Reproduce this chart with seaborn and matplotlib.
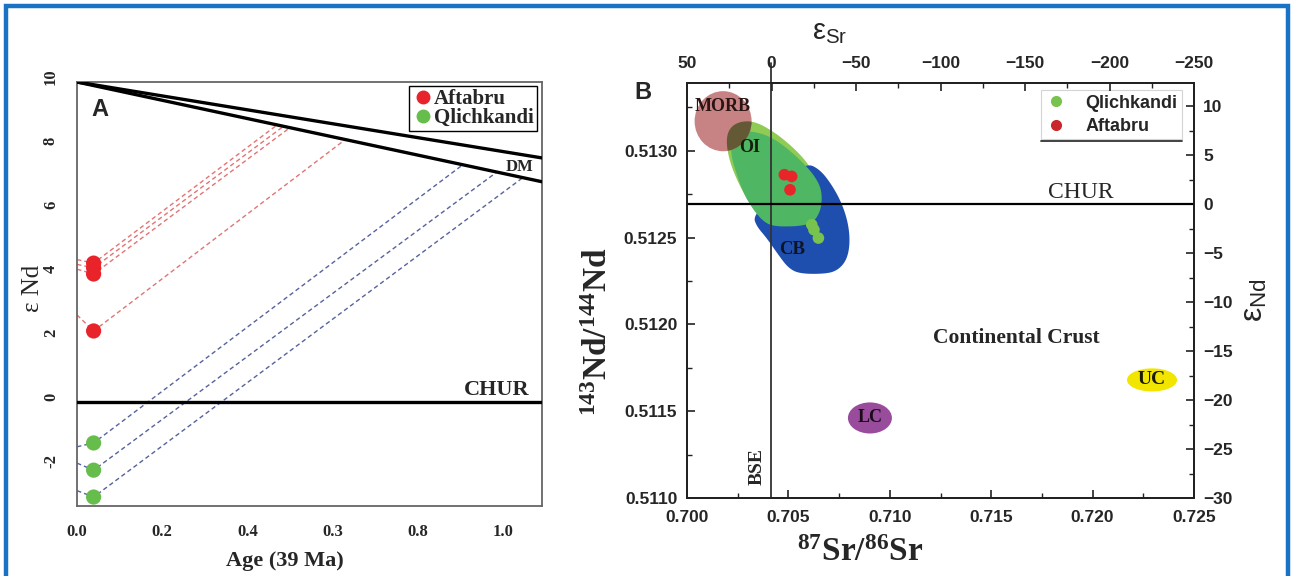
import numpy as np
import pandas as pd
import matplotlib
matplotlib.use("Agg")
import matplotlib.pyplot as plt
import matplotlib.transforms as mtrans
import seaborn as sns
from matplotlib.patches import Ellipse, Polygon, Rectangle
from matplotlib.lines import Line2D
from matplotlib.ticker import MultipleLocator, FormatStrFormatter

# ---------------- Panel A: eNd evolution vs age (Ga) ----------------
sample_age = 0.039                     # 39 Ma expressed in Ga
aftabru_eps_t = [4.34, 4.19, 4.00, 2.22]
aftabru_eps_0 = [4.45, 4.30, 4.15, 2.72]
aftabru_tdm = [0.47, 0.485, 0.50, 0.63]
qlich_eps_t = [-1.28, -2.13, -2.97]
qlich_eps_0 = [-1.40, -1.91, -2.77]
qlich_tdm = [0.906, 0.986, 1.047]

dm_age = [0.0, 1.1]
dm_upper = [10.0, 7.61]
dm_lower = [10.0, 6.86]

age_ticks = [0.0, 0.2, 0.4, 0.6, 0.8, 1.0]
age_ticklabels = ["0.0", "0.2", "0.4", "0.3", "0.8", "1.0"]
eps_ticks = [-2, 0, 2, 4, 6, 8, 10]

# ---------------- Panel B: Sr-Nd isotope diagram ----------------
oi_outer_sr = [0.70192, 0.70209, 0.70261, 0.70335, 0.70426, 0.70508, 0.70574, 0.70615,
               0.70640, 0.70623, 0.70557, 0.70475, 0.70393, 0.70327, 0.70261, 0.70212]
oi_outer_nd = [0.513054, 0.513131, 0.513169, 0.513169, 0.513111, 0.513035, 0.512958, 0.512891,
               0.512814, 0.512699, 0.512602, 0.512564, 0.512574, 0.512660, 0.512794, 0.512929]
oi_inner_sr = [0.70220, 0.70261, 0.70327, 0.70409, 0.70492, 0.70574, 0.70631, 0.70664, 0.70664,
               0.70640, 0.70607, 0.70541, 0.70426, 0.70376, 0.70327, 0.70278, 0.70237, 0.70216]
oi_inner_nd = [0.513073, 0.513111, 0.513111, 0.513083, 0.513016, 0.512929, 0.512852, 0.512775, 0.512679,
               0.512612, 0.512579, 0.512564, 0.512564, 0.512593, 0.512660, 0.512756, 0.512891, 0.512987]
cb_sr = [0.70327, 0.70393, 0.70492, 0.70590, 0.70656, 0.70714, 0.70763, 0.70795, 0.70804,
         0.70788, 0.70746, 0.70689, 0.70557, 0.70500, 0.70450, 0.70393, 0.70344]
cb_nd = [0.512621, 0.512699, 0.512833, 0.512929, 0.512891, 0.512804, 0.512699, 0.512583, 0.512468,
         0.512372, 0.512314, 0.512291, 0.512291, 0.512324, 0.512401, 0.512497, 0.512564]

morb_center = (0.70178, 0.51317)
morb_size = (0.00281, 0.000346)
lc_center = (0.70902, 0.511461)
lc_size = (0.00217, 0.000179)
uc_center = (0.72293, 0.511680)
uc_size = (0.00247, 0.000133)

b_aftabru_sr = [0.70480, 0.70516, 0.70508]
b_aftabru_nd = [0.512862, 0.512852, 0.512775]
b_qlich_sr = [0.70615, 0.70626, 0.70648]
b_qlich_nd = [0.512574, 0.512545, 0.512497]

bse_sr = 0.70414
chur_eps = 0.0

RED = "#e8232a"
GREEN = "#67bd4c"
SERIF = "Liberation Serif"
SANS = "Liberation Sans"


def smooth_closed(xs, ys, n_iter=3):
    """Chaikin corner cutting for a closed outline."""
    pts = np.column_stack([xs, ys])
    for _ in range(n_iter):
        nxt = np.roll(pts, -1, axis=0)
        q = 0.75 * pts + 0.25 * nxt
        r = 0.25 * pts + 0.75 * nxt
        pts = np.empty((2 * len(q), 2))
        pts[0::2] = q
        pts[1::2] = r
    return pts


sns.set_style("ticks")
plt.rcParams["font.family"] = [SERIF, "DejaVu Sans"]
plt.rcParams["mathtext.fontset"] = "custom"
plt.rcParams["mathtext.rm"] = SERIF
plt.rcParams["mathtext.bf"] = SERIF + ":bold"
plt.rcParams["mathtext.it"] = SERIF + ":italic"
plt.rcParams["mathtext.sf"] = SANS

W, H = 1293, 576
fig = plt.figure(figsize=(W / 100, H / 100), dpi=100)
fig.patch.set_facecolor("white")

# blue frame around the whole figure
fig.patches.append(Rectangle((6 / W, -0.02), 1282 / W, 1.02 - 6 / H,
                             transform=fig.transFigure, fill=False,
                             edgecolor="#1a72c6", lw=3.2, zorder=10))

# ======================= Panel A =======================
axA = fig.add_axes([77 / W, 1 - 506 / H, 465 / W, 424 / H])
axA.set_xlim(0, 1.092)
axA.set_ylim(-3.25, 10)

axA.plot(dm_age, dm_upper, color="black", lw=2.4, zorder=3)
axA.plot(dm_age, dm_lower, color="black", lw=2.4, zorder=3)
axA.axhline(0, color="black", lw=2.4, zorder=3)


def model_path(e0, et, tdm):
    return [0.0, sample_age, tdm], [e0, et, float(np.interp(tdm, dm_age, dm_lower))]


for e0, et, tdm in zip(aftabru_eps_0, aftabru_eps_t, aftabru_tdm):
    xs, ys = model_path(e0, et, tdm)
    axA.plot(xs, ys, ls=(0, (3.2, 2.2)), lw=1.0, color="#e27474", zorder=2)
for e0, et, tdm in zip(qlich_eps_0, qlich_eps_t, qlich_tdm):
    xs, ys = model_path(e0, et, tdm)
    axA.plot(xs, ys, ls=(0, (3.2, 2.2)), lw=1.0, color="#56629c", zorder=2)

dfA = pd.DataFrame({
    "age": [sample_age] * (len(aftabru_eps_t) + len(qlich_eps_t)),
    "eps": aftabru_eps_t + qlich_eps_t,
    "group": ["Aftabru"] * len(aftabru_eps_t) + ["Qlichkandi"] * len(qlich_eps_t),
})
sns.scatterplot(data=dfA, x="age", y="eps", hue="group",
                palette={"Aftabru": RED, "Qlichkandi": GREEN},
                s=120, edgecolor="none", legend=False, ax=axA, zorder=5)

axA.set_xticks(age_ticks)
axA.set_xticklabels(age_ticklabels)
axA.set_yticks(eps_ticks)
axA.set_yticklabels([str(v) for v in eps_ticks], rotation=90, va="center")
axA.tick_params(axis="both", length=0, labelsize=12)
axA.tick_params(axis="x", pad=13)
axA.tick_params(axis="y", pad=13)
for lab in axA.get_xticklabels() + axA.get_yticklabels():
    lab.set_fontweight("bold")
    lab.set_family(SERIF)
shift = mtrans.ScaledTranslation(0, 0.05, fig.dpi_scale_trans)
for lab in axA.get_yticklabels():
    lab.set_transform(lab.get_transform() + shift)

for sp in axA.spines.values():
    sp.set_color("#666666")
    sp.set_linewidth(1.3)

axA.set_xlabel("Age (39 Ma)", fontsize=16, fontweight="bold", family=SERIF)
axA.xaxis.set_label_coords(0.447, -0.106)
axA.set_ylabel("ε Nd", fontsize=18, family=SERIF)
axA.yaxis.set_label_coords(-0.072, 0.514)

axA.text(0.049, 0.934, "A", transform=axA.transAxes, fontsize=17,
         fontweight="bold", family=SANS, ha="center", va="center")
axA.text(1.04, 7.34, "DM", fontsize=12, fontweight="bold", ha="center", va="center")
axA.text(1.063, 0.36, "CHUR", fontsize=16, fontweight="bold", ha="right", va="center")

handlesA = [
    Line2D([], [], ls="none", marker="o", ms=9, color=RED, label="Aftabru"),
    Line2D([], [], ls="none", marker="o", ms=9, color=GREEN, label="Qlichkandi"),
]
legA = axA.legend(handles=handlesA, loc="upper right", bbox_to_anchor=(0.989, 0.9906),
                  prop={"family": SERIF, "weight": "bold", "size": 15},
                  frameon=True, fancybox=False, edgecolor="black", framealpha=1,
                  borderpad=0.15, labelspacing=-0.05, handlelength=1.0,
                  handletextpad=0.05, borderaxespad=0)
legA.get_frame().set_linewidth(1.0)

# ======================= Panel B =======================
axB = fig.add_axes([687 / W, 1 - 498 / H, 507 / W, 415 / H])
axB.set_xlim(0.700, 0.725)
axB.set_ylim(0.5110, 0.51339)

outer = Polygon(smooth_closed(oi_outer_sr, oi_outer_nd), closed=True,
                facecolor="#8fcb55", edgecolor="none", zorder=1)
axB.add_patch(outer)
axB.add_patch(Polygon(smooth_closed(cb_sr, cb_nd), closed=True,
                      facecolor="#1f4fae", edgecolor="none", zorder=1.1))
axB.add_patch(Polygon(smooth_closed(oi_inner_sr, oi_inner_nd), closed=True,
                      facecolor="#4fb663", edgecolor="none", zorder=1.2))
axB.add_patch(Ellipse(morb_center, *morb_size, facecolor="#c47c7c",
                      edgecolor="none", alpha=0.95, zorder=1.3))
overlap = Ellipse(morb_center, *morb_size, facecolor="#5a552e",
                  edgecolor="none", alpha=0.9, zorder=1.4)
axB.add_patch(overlap)
overlap.set_clip_path(outer)
axB.add_patch(Ellipse(lc_center, *lc_size, facecolor="#9a4c9c", edgecolor="none", zorder=1.3))
axB.add_patch(Ellipse(uc_center, *uc_size, facecolor="#f2e500", edgecolor="none", zorder=1.3))

axB.axvline(bse_sr, ymin=0, ymax=1.048, color="#333333", lw=1.3, clip_on=False, zorder=2)

dfB = pd.DataFrame({
    "sr": b_qlich_sr + b_aftabru_sr,
    "nd": b_qlich_nd + b_aftabru_nd,
    "group": ["Qlichkandi"] * len(b_qlich_sr) + ["Aftabru"] * len(b_aftabru_sr),
})
sns.scatterplot(data=dfB, x="sr", y="nd", hue="group",
                palette={"Aftabru": "#e8262a", "Qlichkandi": "#78c24e"},
                s=70, edgecolor="none", legend=False, ax=axB, zorder=5)

axB.text(0.70178, 0.513254, "MORB", fontsize=13, fontweight="bold", color="#2a1414",
         ha="center", va="center", zorder=6)
axB.text(0.70311, 0.513017, "OI", fontsize=13, fontweight="bold", color="#12200c",
         ha="center", va="center", zorder=6)
axB.text(0.70518, 0.512429, "CB", fontsize=13.5, fontweight="bold", color="#0c1426",
         ha="center", va="center", zorder=6)
axB.text(*lc_center, "LC", fontsize=13, fontweight="bold", color="#1a0a1a",
         ha="center", va="center", zorder=6)
axB.text(*uc_center, "UC", fontsize=14, fontweight="bold", color="#1a1a00",
         ha="center", va="center", zorder=6)
axB.text(0.71622, 0.511922, "Continental Crust", fontsize=15.5, fontweight="bold",
         ha="center", va="center")
axB.text(0.70345, 0.511179, "BSE", fontsize=14, fontweight="bold", rotation=90,
         ha="center", va="center")

axB.xaxis.set_major_locator(MultipleLocator(0.005))
axB.xaxis.set_minor_locator(MultipleLocator(0.0025))
axB.xaxis.set_major_formatter(FormatStrFormatter("%.3f"))
axB.yaxis.set_major_locator(MultipleLocator(0.0005))
axB.yaxis.set_minor_locator(MultipleLocator(0.00025))
axB.yaxis.set_major_formatter(FormatStrFormatter("%.4f"))
axB.tick_params(which="both", direction="in", top=False, right=False, color="#222222")
axB.tick_params(which="major", length=6, width=1.2, labelsize=12.5)
axB.tick_params(which="minor", length=3.5, width=1.0)
axB.tick_params(axis="x", pad=8.5)
axB.tick_params(axis="y", pad=7)
for lab in axB.get_xticklabels() + axB.get_yticklabels():
    lab.set_family(SANS)
    lab.set_fontweight("bold")

axB.set_xlabel(r"$^{\mathbf{87}}\mathbf{Sr/}^{\mathbf{86}}\mathbf{Sr}$", fontsize=24)
axB.xaxis.set_label_coords(0.341, -0.095)
axB.set_ylabel(r"$^{\mathbf{143}}\mathbf{Nd/}^{\mathbf{144}}\mathbf{Nd}$", fontsize=24)
axB.yaxis.set_label_coords(-0.144, 0.40)

# right axis: epsilon Nd
axR = axB.twinx()
axR.set_ylim(-30, 12.35)
axR.axhline(chur_eps, color="black", lw=1.6, zorder=3)
axR.text(0.71943, 1.15, "CHUR", fontsize=17, ha="center", va="center")
axR.yaxis.set_major_locator(MultipleLocator(5))
axR.yaxis.set_minor_locator(MultipleLocator(2.5))
axR.tick_params(which="both", direction="in", color="#222222")
axR.tick_params(which="major", length=6, width=1.2, labelsize=12.5, pad=6.5)
axR.tick_params(which="minor", length=3.5, width=1.0)
for lab in axR.get_yticklabels():
    lab.set_family(SANS)
    lab.set_fontweight("bold")

# top axis: epsilon Sr
axT = axB.twiny()
axT.set_xlim(50, -250)
axT.xaxis.set_major_locator(MultipleLocator(50))
axT.xaxis.set_minor_locator(MultipleLocator(25))
axT.tick_params(which="both", direction="in", color="#222222")
axT.tick_params(which="major", length=6, width=1.2, labelsize=12.5, pad=9)
axT.tick_params(which="minor", length=3.5, width=1.0)
for lab in axT.get_xticklabels():
    lab.set_family(SANS)
    lab.set_fontweight("bold")

for a in (axB, axR, axT):
    for sp in a.spines.values():
        sp.set_color("#222222")
        sp.set_linewidth(1.3)

axB.text(0.282, 1.12, r"$\mathsf{ε}_{\mathsf{Sr}}$", transform=axB.transAxes,
         fontsize=21, ha="center", va="center")
axB.text(1.12, 0.477, r"$\mathsf{ε}_{\mathsf{Nd}}$", transform=axB.transAxes,
         fontsize=23, ha="center", va="center", rotation=90)
axB.text(-0.087, 0.978, "B", transform=axB.transAxes, fontsize=17,
         fontweight="bold", family=SANS, ha="center", va="center")

handlesB = [
    Line2D([], [], ls="none", marker="o", ms=7, color="#78c24e", label="Qlichkandi"),
    Line2D([], [], ls="none", marker="o", ms=7, color="#c8282c", label="Aftabru"),
]
legB = axR.legend(handles=handlesB, loc="upper left", bbox_to_anchor=(0.698, 0.983),
                  prop={"family": SANS, "size": 13, "weight": "bold"}, frameon=True,
                  fancybox=False, edgecolor="#d4d4d4", framealpha=1, borderpad=0.25,
                  labelspacing=0.35, handlelength=1.2, handletextpad=1.0, borderaxespad=0)
legB.get_frame().set_linewidth(0.8)
axR.plot([0.698, 0.976], [0.860, 0.860], transform=axB.transAxes, color="#333333",
         lw=1.3, clip_on=False, zorder=7)

fig.savefig("out.png", dpi=100, facecolor="white")
